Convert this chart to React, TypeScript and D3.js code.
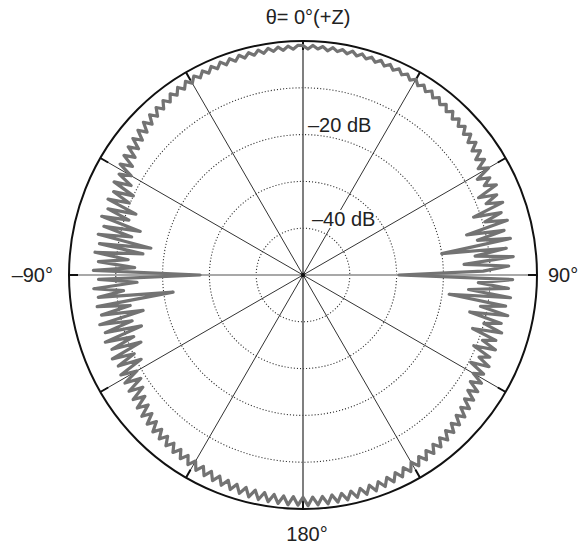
import React, { useEffect, useRef } from "react";
import * as d3 from "d3";

const W = 582;
const H = 548;

// radiation pattern in dB, one sample every 1.25 deg, clockwise from theta = 0 (+z)
const step = 1.25;
// 0 .. 88.75 deg
const q1 = [
  -1.0, -1.7, -0.9, -1.6, -1.0, -1.8, -1.0, -1.7, -1.1, -1.8, -1.0, -1.8,
  -1.1, -1.9, -1.2, -2.0, -1.2, -2.1, -1.3, -2.2, -1.4, -2.3, -1.6, -2.5,
  -1.7, -2.7, -1.9, -2.9, -2.0, -3.1, -2.2, -3.3, -2.4, -3.6, -2.6, -3.9,
  -2.8, -4.1, -3.0, -4.4, -3.2, -4.8, -3.4, -5.2, -3.7, -5.6, -4.0, -6.2,
  -4.2, -7.5, -5.0, -6.8, -4.4, -9.0, -5.2, -8.0, -4.6, -11.5, -5.6, -9.5,
  -4.8, -14.0, -6.0, -12.0, -5.0, -20.0, -6.2, -13.0, -4.9, -15.5, -6.0, -11.5,
];
// 90 .. 178.75 deg
const q2 = [
  -29.5, -5.2, -12.5, -6.0, -14.5, -5.4, -18.5, -6.2, -11.5, -5.4, -13.5, -6.4,
  -10.0, -5.8, -12.0, -6.5, -9.2, -5.9, -10.5, -6.4, -8.5, -5.7, -9.6, -6.0,
  -8.0, -5.4, -7.6, -5.1, -7.0, -4.8, -6.5, -4.4, -6.0, -4.0, -5.6, -3.7,
  -5.2, -3.4, -4.9, -3.1, -4.6, -2.9, -4.4, -2.7, -4.2, -2.5, -4.0, -2.3,
  -3.8, -2.1, -3.6, -1.9, -3.4, -1.7, -3.2, -1.5, -3.0, -1.3, -2.9, -1.2,
  -2.8, -1.1, -2.7, -1.0, -2.6, -0.9, -2.6, -0.8, -2.5, -0.8, -2.5, -0.7,
];
// 180 .. 268.75 deg (-180 .. -91.25)
const q3 = [
  -2.5, -0.8, -2.6, -0.8, -2.6, -0.9, -2.7, -1.0, -2.8, -1.1, -2.9, -1.2,
  -3.0, -1.4, -3.1, -1.6, -3.3, -1.8, -3.5, -2.0, -3.7, -2.2, -3.9, -2.4,
  -4.1, -2.6, -4.3, -2.8, -4.5, -3.0, -4.7, -3.2, -5.0, -3.4, -5.3, -3.6,
  -5.7, -3.9, -6.2, -4.2, -6.8, -4.6, -7.4, -5.0, -8.2, -5.3, -8.9, -5.5,
  -9.0, -5.6, -11.0, -6.0, -10.2, -5.5, -12.5, -6.2, -11.5, -5.4, -13.8, -6.0,
  -12.2, -5.3, -15.0, -6.1, -12.5, -5.5, -22.0, -6.0, -11.5, -5.2, -14.5, -6.3,
];
// 270 .. 358.75 deg (-90 .. -1.25)
const q4 = [
  -28.0, -5.2, -14.0, -6.2, -12.5, -5.3, -15.5, -6.0, -17.0, -5.4, -12.5, -6.2,
  -14.0, -5.2, -11.0, -6.0, -12.0, -5.3, -9.8, -5.8, -10.0, -5.0, -8.6, -5.2,
  -7.6, -4.3, -6.8, -4.0, -6.2, -3.7, -5.7, -3.4, -5.2, -3.1, -4.8, -2.8,
  -4.4, -2.6, -4.0, -2.4, -3.7, -2.2, -3.4, -2.0, -3.1, -1.8, -2.9, -1.6,
  -2.7, -1.5, -2.5, -1.4, -2.4, -1.3, -2.3, -1.2, -2.2, -1.2, -2.1, -1.1,
  -2.0, -1.1, -1.9, -1.0, -1.9, -1.0, -1.8, -1.0, -1.8, -1.0, -1.7, -0.9,
];

const ringLevels = [-40, -30, -20, -10];
const spokeAngles = [0, 30, 60, 90, 120, 150, 180, 210, 240, 270, 300, 330];
const ringLabels = [
  { level: -20, text: "–20 dB" },
  { level: -40, text: "–40 dB" },
];
const topLabel = "θ= 0°(+Z)";
const rightLabel = "90°";
const bottomLabel = "180°";
const leftLabel = "–90°";

export default function App() {
  const ref = useRef<SVGSVGElement>(null);

  useEffect(() => {
    const svg = d3.select(ref.current);
    svg.selectAll("*").remove();

    const cx = 303;
    const cy = 275;
    const R = 234;
    const font = "'Liberation Sans', Arial, sans-serif";

    const r = d3.scaleLinear().domain([-50, 0]).range([0, R]).clamp(true);
    const rad = (a: number) => (a * Math.PI) / 180;

    const g = svg.append("g").attr("transform", `translate(${cx},${cy})`);

    // dotted dB rings
    g.selectAll(".ring")
      .data(ringLevels)
      .enter()
      .append("circle")
      .attr("r", (d) => r(d))
      .attr("fill", "none")
      .attr("stroke", "#333")
      .attr("stroke-width", 1.1)
      .attr("stroke-dasharray", "1.1,2");

    // spokes every 30 deg
    g.selectAll(".spoke")
      .data(spokeAngles)
      .enter()
      .append("line")
      .attr("x1", 0)
      .attr("y1", 0)
      .attr("x2", (d) => R * Math.sin(rad(d)))
      .attr("y2", (d) => -R * Math.cos(rad(d)))
      .attr("stroke", (d) => (d % 180 === 90 ? "#a8a8a8" : d % 180 === 0 ? "#555" : "#333"))
      .attr("stroke-width", (d) => (d % 180 === 90 ? 2 : d % 180 === 0 ? 1.5 : 1));

    // ticks at the outer circle
    g.selectAll(".tick")
      .data(spokeAngles)
      .enter()
      .append("line")
      .attr("x1", (d) => (R - 9) * Math.sin(rad(d)))
      .attr("y1", (d) => -(R - 9) * Math.cos(rad(d)))
      .attr("x2", (d) => R * Math.sin(rad(d)))
      .attr("y2", (d) => -R * Math.cos(rad(d)))
      .attr("stroke", "#111")
      .attr("stroke-width", 2);

    // pattern
    const values = [...q1, ...q2, ...q3, ...q4];
    const line = d3
      .lineRadial<number>()
      .angle((d, i) => rad(i * step))
      .radius((d) => r(d))
      .curve(d3.curveLinearClosed);

    g.append("path")
      .datum(values)
      .attr("d", line)
      .attr("fill", "none")
      .attr("stroke", "#737373")
      .attr("stroke-width", 3.2)
      .attr("stroke-linejoin", "round");

    // outer circle
    g.append("circle")
      .attr("r", R)
      .attr("fill", "none")
      .attr("stroke", "#111")
      .attr("stroke-width", 2);

    g.append("circle").attr("r", 2.2).attr("fill", "#111");

    // ring labels
    g.selectAll(".rlabel")
      .data(ringLabels)
      .enter()
      .append("text")
      .attr("x", (d) => (d.level === -40 ? 9 : 5))
      .attr("y", (d) => -r(d.level) - 2.5)
      .text((d) => d.text)
      .attr("font-family", font)
      .attr("font-size", 20)
      .attr("fill", "#222")
      .attr("stroke", "#fff")
      .attr("stroke-width", 4)
      .attr("paint-order", "stroke");

    const label = (x: number, y: number, t: string, anchor: string) =>
      svg
        .append("text")
        .attr("x", x)
        .attr("y", y)
        .attr("text-anchor", anchor)
        .attr("font-family", font)
        .attr("font-size", 20)
        .attr("fill", "#222")
        .text(t);

    label(cx + 5, 24, topLabel, "middle");
    label(cx + R + 11, cy + 7, rightLabel, "start");
    label(cx + 4, 541, bottomLabel, "middle");
    label(cx - R - 16, cy + 7, leftLabel, "end");
  }, []);

  return (
    <svg
      ref={ref}
      width={W}
      height={H}
      style={{ position: "absolute", left: 0, top: 0, background: "#fff" }}
    />
  );
}
